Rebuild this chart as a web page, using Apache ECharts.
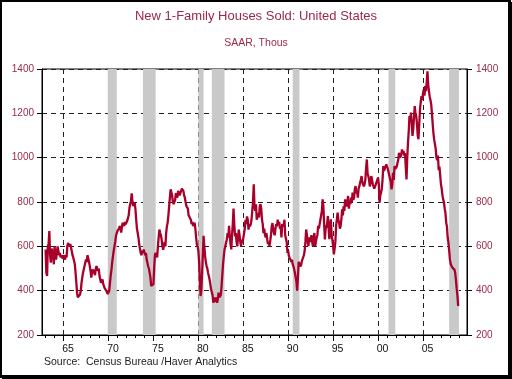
<!DOCTYPE html>
<html><head><meta charset="utf-8">
<script src="https://cdn.jsdelivr.net/npm/echarts@6/dist/echarts.min.js"></script>
<style>html,body{margin:0;padding:0;background:#fff}#c{width:512px;height:379px}</style>
</head><body><div id="c"></div>
<script>
// Monthly new 1-family houses sold, SAAR thousands, Jan 1963 - Dec 2008
const firstYear = 1963;
const sales1960s = [
  586,481,466,600,610,669,560,526,590,580,560,519,
  600,560,540,541,600,580,560,570,550,560,555,545,
  560,550,540,560,550,600,615,609,600,610,595,590,
  560,549,540,520,481,440,391,370,368,375,383,400,
  436,460,481,490,511,520,541,530,560,564,530,511,
  490,459,480,496,500,481,470,500,511,500,489,500,
  466,450,436,440,451,430,421,410,415,400,395,385
];
const sales1970s = [
  376,400,436,470,496,530,556,580,601,620,647,660,
  670,662,680,692,680,662,690,707,700,692,710,700,
  707,715,722,740,774,790,804,839,800,782,790,797,
  767,720,680,660,640,610,590,571,560,580,570,586,
  586,560,570,540,526,510,500,480,460,421,430,415,
  430,500,560,571,560,550,600,640,676,660,650,630,
  600,585,590,620,600,660,690,707,740,780,820,857,
  857,830,800,790,782,810,840,842,820,850,840,830,
  830,850,860,865,850,830,820,800,782,790,770,740,
  737,740,720,700,710,692,700,707,680,640,610,600
];
const sales1980s = [
  580,530,450,376,400,480,560,647,600,556,530,511,
  500,480,466,450,430,406,400,380,346,360,370,350,
  370,345,360,391,370,361,380,420,470,520,556,586,
  600,616,631,660,640,692,650,610,586,650,700,770,
  700,645,660,620,600,640,675,650,620,600,630,615,
  620,610,680,720,700,735,720,675,700,690,700,720,
  760,800,880,780,760,790,720,735,750,730,780,790,
  770,720,700,660,680,650,640,660,630,610,620,600,
  600,650,690,705,680,660,650,680,700,690,720,700,
  710,680,690,640,700,705,690,720,650,645,620,570
];
const sales1990s = [
  580,555,560,540,530,540,520,510,495,480,460,440,
  400,460,530,520,526,510,530,541,540,560,580,620,
  676,650,620,601,640,620,631,650,620,600,640,660,
  600,620,640,650,692,680,700,720,740,760,812,780,
  700,631,680,677,700,737,680,632,690,722,650,630,
  600,564,590,620,692,700,752,720,707,680,690,720,
  767,740,780,760,812,790,780,800,827,770,800,790,
  820,800,842,810,820,860,872,840,850,820,860,870,
  887,900,917,890,880,870,880,900,950,992,930,917,
  900,870,890,917,900,880,872,860,857,880,887,900
];
const sales2000s = [
  910,880,797,830,842,860,900,962,940,932,960,970,
  977,950,947,920,917,890,857,880,932,900,962,950,
  947,960,977,990,1022,1000,992,1010,1037,1020,1030,1010,
  1020,960,902,1000,1067,1120,1188,1170,1203,1150,1098,1130,
  1180,1233,1200,1188,1150,1100,1083,1150,1218,1250,1278,1260,
  1290,1308,1280,1323,1300,1340,1389,1330,1300,1275,1260,1240,
  1200,1150,1110,1080,1060,1040,1000,989,1010,944,960,920,
  880,860,830,812,800,770,752,707,690,640,617,580,
  541,520,511,505,504,500,495,481,450,410,380,331
];
// NBER recessions: [start year, start month, end year, end month]
const recessions = [
  [1969,12,1970,11],[1973,11,1975,3],[1980,1,1980,7],[1981,7,1982,11],
  [1990,7,1991,3],[2001,3,2001,11],[2007,12,2008,12]
];
const xTickYears = [1965,1970,1975,1980,1985,1990,1995,2000,2005];
const xTickLabels = ['65','70','75','80','85','90','95','00','05'];
const yTicks = [200,400,600,800,1000,1200,1400];
const xMin = 1962.6, xMax = 2009.9;

const allSales = [].concat(sales1960s, sales1970s, sales1980s, sales1990s, sales2000s);
const seriesData = allSales.map((v, i) => [firstYear + i / 12, v]);
const minorYears = [];
for (let y = 1963; y <= 2009; y++) minorYears.push(y);
const labelPos = xTickYears.map(y => y + 0.5);
const labelMap = {};
labelPos.forEach((p, i) => { labelMap[p.toFixed(1)] = xTickLabels[i]; });
const areas = recessions.map(r => [
  { xAxis: r[0] + (r[1] - 1) / 12 },
  { xAxis: r[2] + r[3] / 12 }
]);

const red = '#9B2846';
const font = 'Liberation Sans, Arial, sans-serif';
const chart = echarts.init(document.getElementById('c'), null, { renderer: 'canvas' });
const yAxisBase = (pos, margin, split) => ({
  type: 'value', min: yTicks[0], max: yTicks[yTicks.length - 1], interval: 200, position: pos,
  axisLine: { show: true, lineStyle: { color: '#000' } },
  axisTick: { show: true, length: 5, lineStyle: { color: '#000' } },
  axisLabel: { color: red, fontSize: 10, fontFamily: font, margin: margin, formatter: v => String(v) },
  splitLine: { show: split, lineStyle: { color: '#222', type: [5, 4], width: 1 } }
});
chart.setOption({
  animation: false,
  backgroundColor: '#fff',
  title: [
    { text: 'New 1-Family Houses Sold: United States', left: 'center', top: 10, padding: 0,
      textStyle: { fontSize: 13, fontWeight: 'normal', color: red, fontFamily: font } },
    { text: 'SAAR, Thous', left: 'center', top: 38, padding: 0,
      textStyle: { fontSize: 10.5, fontWeight: 'normal', color: red, fontFamily: font } },
    { text: 'Source:  Census Bureau /Haver Analytics', left: 44, top: 357, padding: 0,
      textStyle: { fontSize: 10.5, fontWeight: 'normal', color: '#222', fontFamily: font } }
  ],
  grid: { left: 42, right: 45, top: 69, bottom: 44, show: true, borderColor: '#000', borderWidth: 1, backgroundColor: 'transparent' },
  xAxis: [
    { type: 'value', min: xMin, max: xMax, position: 'bottom',
      axisLine: { show: true, lineStyle: { color: '#000', width: 1 } },
      axisTick: { show: true, customValues: minorYears, length: 3, lineStyle: { color: '#000' } },
      axisLabel: { show: false }, splitLine: { show: false } },
    { type: 'value', min: xMin, max: xMax, position: 'bottom',
      axisLine: { show: false },
      axisTick: { show: true, customValues: xTickYears, length: 6, lineStyle: { color: '#000' } },
      axisLabel: { show: true, customValues: labelPos, margin: 9, color: '#111', fontSize: 10.5, fontFamily: font,
        formatter: v => labelMap[(+v).toFixed(1)] || '' },
      splitLine: { show: true, lineStyle: { color: '#222', type: [5, 4], width: 1 } } }
  ],
  yAxis: [ yAxisBase('left', 8, true), yAxisBase('right', 9, false) ],
  series: [{
    type: 'line', xAxisIndex: 0, yAxisIndex: 0, data: seriesData,
    showSymbol: false, symbol: 'none',
    lineStyle: { color: '#A8002A', width: 2.3 },
    markArea: { silent: true, itemStyle: { color: '#C9C9C9', opacity: 1 }, data: areas }
  }],
  graphic: [
    { type: 'rect', shape: { x: 1, y: 1, width: 509, height: 376 }, style: { fill: null, stroke: '#000', lineWidth: 2 }, z: 100 },
    { type: 'rect', shape: { x: 508, y: 2, width: 4, height: 377 }, style: { fill: '#000' }, z: 100 },
    { type: 'rect', shape: { x: 2, y: 375, width: 510, height: 4 }, style: { fill: '#000' }, z: 100 }
  ]
});
</script></body></html>
